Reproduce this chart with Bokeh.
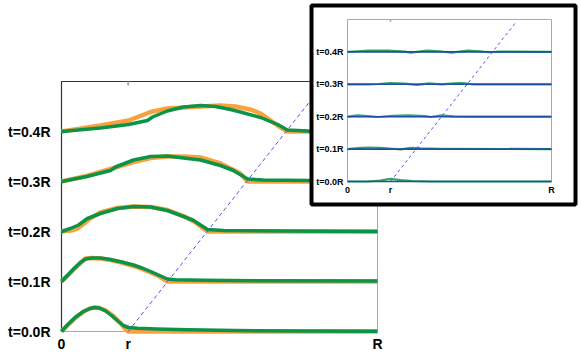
from bokeh.plotting import figure
from bokeh.models import Range1d
from bokeh.core.properties import value
from bokeh.embed import file_html
from bokeh.resources import INLINE

# ---------------- data ----------------
r = 0.211            # position of the initial front (in units of R)
R = 1.0
front_speed = 0.125  # advance of the front per 0.1R step of t (units of R)
time_levels = [0, 1, 2, 3, 4]
time_labels = ["t=0.0R", "t=0.1R", "t=0.2R", "t=0.3R", "t=0.4R"]
x_tick_pos = [0.0, r, R]
x_tick_labels = ["0", "r", "R"]

# main panel, orange (reference) curves: x in R, height in units of row spacing
orange_t0_x = [0, 0.02, 0.045, 0.07, 0.09, 0.105, 0.12, 0.14, 0.16, 0.18, 0.20, 0.212, 1.0]
orange_t0_h = [0, 0.13, 0.28, 0.40, 0.46, 0.48, 0.47, 0.42, 0.33, 0.21, 0.07, 0.0, 0.0]
orange_t1_x = [0, 0.02, 0.04, 0.06, 0.076, 0.095, 0.123, 0.155, 0.19, 0.228, 0.255, 0.282, 0.31, 0.335, 1.0]
orange_t1_h = [0, 0.12, 0.25, 0.37, 0.46, 0.47, 0.46, 0.43, 0.38, 0.31, 0.25, 0.18, 0.10, 0.0, 0.0]
orange_t2_x = [0, 0.03, 0.05, 0.07, 0.09, 0.123, 0.177, 0.228, 0.282, 0.335, 0.386, 0.42, 0.462, 1.0]
orange_t2_h = [0, 0.02, 0.06, 0.15, 0.26, 0.38, 0.47, 0.50, 0.49, 0.43, 0.31, 0.20, 0.0, 0.0]
orange_t3_x = [0, 0.08, 0.155, 0.228, 0.282, 0.335, 0.386, 0.44, 0.503, 0.566, 0.589, 1.0]
orange_t3_h = [0, 0.11, 0.25, 0.39, 0.47, 0.50, 0.50, 0.48, 0.36, 0.16, 0.0, 0.0]
orange_t4_x = [0, 0.123, 0.212, 0.282, 0.335, 0.386, 0.44, 0.503, 0.55, 0.598, 0.63, 0.684, 0.715, 1.0]
orange_t4_h = [0, 0.12, 0.22, 0.39, 0.46, 0.48, 0.50, 0.52, 0.50, 0.44, 0.36, 0.12, 0.0, 0.0]

# main panel, green (computed) curves
green_t0_x = [0, 0.02, 0.045, 0.07, 0.09, 0.105, 0.12, 0.14, 0.16, 0.18, 0.196, 0.212, 0.24, 0.30, 0.40, 0.55, 0.75, 1.0]
green_t0_h = [0, 0.14, 0.29, 0.40, 0.46, 0.48, 0.47, 0.41, 0.31, 0.20, 0.12, 0.08, 0.065, 0.05, 0.035, 0.02, 0.01, 0.005]
green_t1_x = [0, 0.02, 0.04, 0.06, 0.076, 0.095, 0.123, 0.155, 0.19, 0.228, 0.255, 0.282, 0.31, 0.335, 0.36, 0.45, 0.6, 1.0]
green_t1_h = [0, 0.13, 0.26, 0.38, 0.45, 0.47, 0.47, 0.44, 0.39, 0.33, 0.27, 0.20, 0.12, 0.05, 0.035, 0.025, 0.015, 0.01]
green_t2_x = [0, 0.028, 0.054, 0.082, 0.123, 0.177, 0.228, 0.282, 0.335, 0.386, 0.418, 0.462, 0.513, 0.7, 1.0]
green_t2_h = [0, 0.06, 0.13, 0.26, 0.36, 0.46, 0.50, 0.49, 0.42, 0.30, 0.22, 0.04, 0.02, 0.01, 0.0]
green_t3_x = [0, 0.08, 0.155, 0.171, 0.228, 0.282, 0.335, 0.386, 0.44, 0.503, 0.544, 0.589, 0.639, 0.788, 1.0]
green_t3_h = [0, 0.10, 0.22, 0.29, 0.43, 0.50, 0.51, 0.47, 0.43, 0.32, 0.22, 0.05, 0.03, 0.02, 0.0]
green_t4_x = [0, 0.123, 0.212, 0.272, 0.288, 0.335, 0.386, 0.44, 0.487, 0.535, 0.566, 0.63, 0.684, 0.715, 0.778, 1.0]
green_t4_h = [0, 0.07, 0.14, 0.22, 0.29, 0.41, 0.49, 0.52, 0.50, 0.44, 0.39, 0.28, 0.14, 0.03, 0.01, 0.0]

# inset panel: green (small ripples) and blue (flat) curves
inset_green_t0_x = [0, 0.1, 0.16, 0.21, 0.26, 0.32, 0.4, 1.0]
inset_green_t0_h = [0, 0.0, 0.03, 0.08, 0.04, 0.015, 0.0, 0.0]
inset_green_t1_x = [0, 0.05, 0.1, 0.16, 0.22, 0.26, 0.31, 0.36, 0.45, 1.0]
inset_green_t1_h = [0, 0.03, 0.05, 0.04, 0.01, -0.01, 0.04, 0.02, 0.01, 0.0]
inset_green_t2_x = [0, 0.05, 0.1, 0.15, 0.22, 0.3, 0.38, 0.41, 0.46, 0.52, 0.6, 1.0]
inset_green_t2_h = [0, 0.04, 0.02, -0.01, 0.03, 0.04, 0.02, -0.01, 0.04, 0.01, 0.0, 0.0]
inset_green_t3_x = [0, 0.1, 0.15, 0.21, 0.28, 0.34, 0.40, 0.46, 0.52, 0.56, 0.62, 0.7, 1.0]
inset_green_t3_h = [0, 0.0, 0.01, 0.04, 0.02, -0.02, 0.03, 0.0, 0.03, 0.04, 0.0, 0.0, 0.0]
inset_green_t4_x = [0, 0.05, 0.1, 0.2, 0.28, 0.31, 0.39, 0.45, 0.51, 0.59, 0.65, 0.69, 0.75, 1.0]
inset_green_t4_h = [0, 0.02, 0.04, 0.04, 0.01, -0.02, 0.04, 0.02, -0.02, 0.04, 0.02, -0.01, 0.01, 0.0]
inset_blue_x = [0.0, 1.0]
inset_blue_h = [0.0, 0.0]

orange_x = [orange_t0_x, orange_t1_x, orange_t2_x, orange_t3_x, orange_t4_x]
orange_h = [orange_t0_h, orange_t1_h, orange_t2_h, orange_t3_h, orange_t4_h]
green_x = [green_t0_x, green_t1_x, green_t2_x, green_t3_x, green_t4_x]
green_h = [green_t0_h, green_t1_h, green_t2_h, green_t3_h, green_t4_h]
inset_green_x = [inset_green_t0_x, inset_green_t1_x, inset_green_t2_x, inset_green_t3_x, inset_green_t4_x]
inset_green_h = [inset_green_t0_h, inset_green_t1_h, inset_green_t2_h, inset_green_t3_h, inset_green_t4_h]

# ---------------- styling / layout ----------------
ORANGE = "#f8a13d"
GREEN = "#0a9447"
IN_GREEN = "#36a265"
IN_BLUE = "#1d4fa3"
DASH = "#5252f5"
FONT = value("Liberation Sans")
Y_TOP = 5.0
DASH_TOP = 4.9

W, H = 581, 356
p = figure(width=W, height=H, x_range=Range1d(0, W), y_range=Range1d(H, 0),
           output_backend="svg", toolbar_location=None, min_border=0,
           x_axis_location=None, y_axis_location=None)
p.grid.visible = False
p.outline_line_color = None
p.background_fill_color = "white"

main = p.subplot(x_source=Range1d(0, R), y_source=Range1d(0, Y_TOP),
                 x_target=Range1d(61, 377), y_target=Range1d(331, 81))
inset = p.subplot(x_source=Range1d(0, R), y_source=Range1d(0, Y_TOP),
                  x_target=Range1d(347, 551), y_target=Range1d(181, 19))

# ---- main panel ----
main.quad(left=[0], right=[R], bottom=[0], top=[Y_TOP], fill_color=None,
          line_color="#a8a8a8", line_width=1)
main.line([0, 0, R], [0, Y_TOP, Y_TOP], line_color="#333333", line_width=1.2)
main.segment(x0=[r], y0=[Y_TOP], x1=[r], y1=[Y_TOP - 0.08], line_color="#aaaaaa", line_width=2)

for k in time_levels:
    main.line(orange_x[k], [k + h for h in orange_h[k]], line_color=ORANGE,
              line_width=4.5, line_join="round")
for k in time_levels:
    main.line(green_x[k], [k + h for h in green_h[k]], line_color=GREEN,
              line_width=3.5, line_join="round")
main.line([r, r + front_speed * DASH_TOP], [0, DASH_TOP], line_color=DASH,
          line_width=1, line_dash="4 3")

main.text(x=[0] * len(time_levels), y=time_levels, text=time_labels, x_offset=-11,
          text_align="right", text_baseline="middle", text_font=FONT,
          text_font_style="bold", text_font_size="14px", text_color="black")
main.text(x=x_tick_pos, y=[0] * 3, text=x_tick_labels, y_offset=12,
          text_align="center", text_baseline="middle", text_font=FONT,
          text_font_style="bold", text_font_size="14px", text_color="black")

# ---- inset panel ----
p.quad(left=[311], right=[575], top=[5], bottom=[204], fill_color="white",
       line_color="black", line_width=4)
inset.quad(left=[0], right=[R], bottom=[0], top=[Y_TOP], fill_color=None,
           line_color="#a8a8a8", line_width=1)
inset.segment(x0=[r], y0=[Y_TOP], x1=[r], y1=[Y_TOP - 0.08], line_color="#aaaaaa", line_width=1.5)
for k in time_levels:
    inset.line(inset_green_x[k], [k + h for h in inset_green_h[k]], line_color=IN_GREEN,
               line_width=2.2, line_join="round")
for k in time_levels:
    inset.line(inset_blue_x, [k + h for h in inset_blue_h], line_color=IN_BLUE,
               line_width=1.6)
inset.line([r, r + front_speed * DASH_TOP], [0, DASH_TOP], line_color=DASH,
           line_width=1, line_dash="3 3")
inset.text(x=[0] * len(time_levels), y=time_levels, text=time_labels, x_offset=-4,
           text_align="right", text_baseline="middle", text_font=FONT,
           text_font_style="bold", text_font_size="9px", text_color="black")
inset.text(x=x_tick_pos, y=[0] * 3, text=x_tick_labels, y_offset=8,
           text_align="center", text_baseline="middle", text_font=FONT,
           text_font_style="bold", text_font_size="9px", text_color="black")

open("out.html", "w").write(file_html(p, INLINE))
